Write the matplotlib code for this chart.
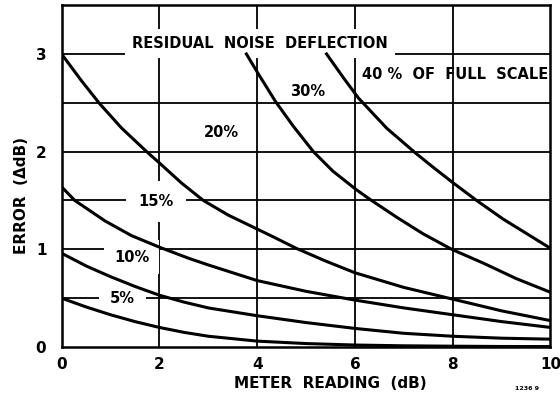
import numpy as np
import matplotlib
matplotlib.use("Agg")
import matplotlib.pyplot as plt

# ---------------- data ----------------
x_5 = [0, 0.5, 1, 1.5, 2, 2.5, 3, 4, 5, 6, 7, 8, 9, 10]
y_5 = [0.50, 0.41, 0.33, 0.26, 0.20, 0.15, 0.11, 0.06, 0.035, 0.02, 0.012, 0.008, 0.005, 0.004]

x_10 = [0, 0.5, 1, 1.5, 2, 2.5, 3, 4, 5, 6, 7, 8, 9, 10]
y_10 = [0.96, 0.83, 0.72, 0.62, 0.53, 0.46, 0.40, 0.32, 0.25, 0.19, 0.14, 0.11, 0.09, 0.08]

x_15 = [0, 0.27, 0.89, 1.43, 2.01, 2.59, 3, 4, 5, 6, 7, 8, 9, 10]
y_15 = [1.64, 1.50, 1.29, 1.14, 1.02, 0.91, 0.84, 0.68, 0.57, 0.48, 0.40, 0.33, 0.26, 0.20]

x_20 = [0, 0.4, 0.78, 1.23, 1.74, 2.01, 2.45, 2.90, 3.41, 3.99, 4.36, 4.8, 5.4, 6, 7, 8, 9, 10]
y_20 = [3.0, 2.73, 2.49, 2.24, 2.00, 1.88, 1.68, 1.50, 1.35, 1.21, 1.12, 1.01, 0.88, 0.76, 0.61, 0.49, 0.37, 0.27]

x_30 = [3.78, 4.02, 4.38, 4.74, 5.15, 5.55, 6.03, 6.34, 6.85, 7.39, 7.98, 8.62, 9.3, 10]
y_30 = [3.0, 2.80, 2.51, 2.26, 2.00, 1.80, 1.61, 1.50, 1.33, 1.16, 1.00, 0.86, 0.70, 0.56]

x_40 = [5.42, 5.76, 6.07, 6.65, 7.23, 7.60, 8.01, 8.49, 9.03, 9.58, 10]
y_40 = [3.0, 2.76, 2.55, 2.24, 1.99, 1.84, 1.68, 1.50, 1.31, 1.14, 1.01]

curves = [(x_5, y_5), (x_10, y_10), (x_15, y_15), (x_20, y_20), (x_30, y_30), (x_40, y_40)]

x_ticks = [0, 2, 4, 6, 8, 10]
y_ticks = [0, 1, 2, 3]
y_grid = [0.5, 1, 1.5, 2, 2.5, 3]
x_grid = [2, 4, 6, 8]

# ---------------- figure ----------------
plt.rcParams['font.family'] = ['DejaVu Sans']
fig = plt.figure(figsize=(5.6, 3.97), dpi=100)
ax = fig.add_axes([0.110, 0.126, 0.873, 0.861])

for yg in y_grid:
    ax.axhline(yg, color='black', linewidth=1.3, zorder=1)
for xg in x_grid:
    ax.axvline(xg, color='black', linewidth=1.3, zorder=1)

for xs, ys in curves:
    ax.plot(xs, ys, color='black', linewidth=2.2, solid_joinstyle='round', zorder=4)

ax.set_xlim(0, 10)
ax.set_ylim(0, 3.5)
ax.set_xticks(x_ticks)
ax.set_yticks(y_ticks)
ax.set_xticklabels([str(v) for v in x_ticks], fontsize=11, fontweight='bold')
ax.set_yticklabels([str(v) for v in y_ticks], fontsize=11, fontweight='bold')
ax.tick_params(length=0)
ax.tick_params(axis='x', pad=7)
ax.tick_params(axis='y', pad=11)
for s in ax.spines.values():
    s.set_linewidth(1.8)

box = dict(facecolor='white', edgecolor='none', pad=5)
txt = dict(fontweight='bold', ha='center', va='center', zorder=3)

ax.text(4.06, 3.11, 'RESIDUAL  NOISE  DEFLECTION', fontsize=10.5, bbox=box, **txt)
ax.text(8.04, 2.79, '40 %  OF  FULL  SCALE', fontsize=10.5, **txt)
ax.text(5.03, 2.62, '30%', fontsize=10.5, **txt)
ax.text(3.27, 2.20, '20%', fontsize=10.5, **txt)
ax.text(1.93, 1.49, '15%', fontsize=10.5, bbox=dict(facecolor='white', edgecolor='none', pad=9), **txt)
ax.text(1.43, 0.92, '10%', fontsize=10.5, bbox=dict(facecolor='white', edgecolor='none', pad=7), **txt)
ax.text(1.24, 0.50, '5%', fontsize=10.5, bbox=dict(facecolor='white', edgecolor='none', pad=8), **txt)

fig.text(22 / 560, 1 - 196 / 397, 'ERROR  (\u0394dB)', rotation=90, fontsize=11,
         fontweight='bold', ha='center', va='center')
fig.text(330 / 560, 1 - 383 / 397, 'METER  READING  (dB)', fontsize=11,
         fontweight='bold', ha='center', va='center')
fig.text(527 / 560, 1 - 388 / 397, '1236 9', fontsize=4.5, fontweight='bold',
         ha='center', va='center')

fig.savefig('out.png', dpi=100)
